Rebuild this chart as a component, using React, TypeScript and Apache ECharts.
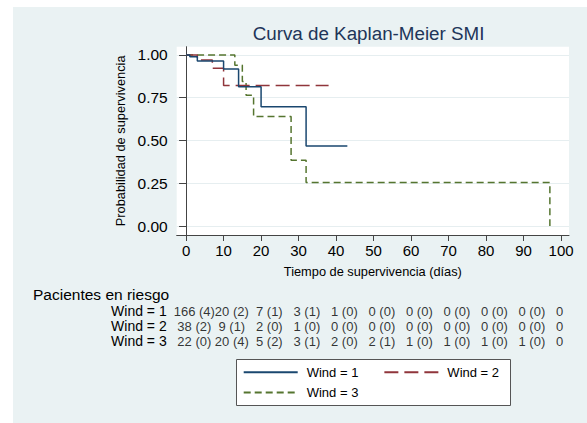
import React, { useEffect, useRef } from 'react';
import * as echarts from 'echarts';

// ---- data ----
const groups = ['Wind = 1', 'Wind = 2', 'Wind = 3'];
const wind1Curve = [[0, 1], [1, 0.99], [3, 0.965], [10, 0.918], [14, 0.815], [20, 0.698], [32, 0.468], [43, 0.468]];
const wind2Curve = [[0, 1], [3, 0.97], [7, 0.922], [10, 0.822], [38, 0.822]];
const wind3Curve = [[0, 1], [13, 0.94], [15, 0.845], [16, 0.765], [18, 0.64], [28, 0.385], [32, 0.255], [97, 0]];

const riskTimes = [0, 10, 20, 30, 40, 50, 60, 70, 80, 90, 100];
const wind1AtRisk = [166, 20, 7, 3, 1, 0, 0, 0, 0, 0, 0];
const wind1Events = [4, 2, 1, 1, 0, 0, 0, 0, 0, 0];
const wind2AtRisk = [38, 9, 2, 1, 0, 0, 0, 0, 0, 0, 0];
const wind2Events = [2, 1, 0, 0, 0, 0, 0, 0, 0, 0];
const wind3AtRisk = [22, 20, 5, 3, 2, 2, 1, 1, 1, 1, 0];
const wind3Events = [0, 4, 2, 1, 0, 1, 0, 0, 0, 0];

const xTicks = [0, 10, 20, 30, 40, 50, 60, 70, 80, 90, 100];
const yTicks = [0, 0.25, 0.5, 0.75, 1];

const titleText = 'Curva de Kaplan-Meier SMI';
const xName = 'Tiempo de supervivencia (días)';
const yName = 'Probabilidad de supervivencia';
const riskTitle = 'Pacientes en riesgo';

// ---- style ----
const FONT = '"Liberation Sans", Arial, Helvetica, sans-serif';
const colors = ['#1a476f', '#90353b', '#55752f'];
const dashes: any[] = ['solid', [14, 6], [7, 4]];
const RISK_FS = 13;

const curves = [wind1Curve, wind2Curve, wind3Curve];
const atRisk = [wind1AtRisk, wind2AtRisk, wind3AtRisk];
const events = [wind1Events, wind2Events, wind3Events];

function buildOption() {
  const kmSeries = groups.map((g, i) => ({
    name: g,
    type: 'line',
    xAxisIndex: 0,
    yAxisIndex: 0,
    step: 'end',
    symbol: 'none',
    data: curves[i],
    itemStyle: { color: colors[i] },
    lineStyle: { color: colors[i], width: 1.5, type: dashes[i] },
    z: 3 - i + 2,
  }));

  const riskSeries = groups.map((g, i) => ({
    name: 'risk-' + g,
    type: 'scatter',
    xAxisIndex: 1,
    yAxisIndex: 1,
    symbolSize: 0,
    silent: true,
    data: riskTimes.map((t, k) => {
      const cnt = String(atRisk[i][k]);
      const txt = k < events[i].length ? `${cnt} (${events[i][k]})` : cnt;
      return {
        value: [t, g],
        txt,
        label: { offset: [-(cnt.length * 0.556 * RISK_FS) / 2 - 1.5, 0] },
      };
    }),
    label: {
      show: true,
      position: 'inside',
      align: 'left',
      verticalAlign: 'middle',
      fontSize: RISK_FS,
      color: '#000',
      fontFamily: FONT,
      formatter: (p: any) => p.data.txt,
    },
  }));

  const legendCommon = {
    padding: 0,
    z: 5,
    itemWidth: 54,
    itemHeight: 14,
    itemStyle: { opacity: 0 },
    textStyle: { fontSize: 13, color: '#000', fontFamily: FONT, padding: [0, 0, 0, 4] },
  };

  return {
    animation: false,
    backgroundColor: '#eaf2f3',
    textStyle: { fontFamily: FONT },
    graphic: [
      {
        type: 'text',
        style: {
          text: titleText,
          x: 239.7,
          y: 26,
          align: 'left',
          verticalAlign: 'middle',
          fontSize: 18.8,
          fontFamily: FONT,
          fill: '#213559',
        },
      },
      {
        type: 'text',
        style: {
          text: riskTitle,
          x: 20,
          y: 287,
          align: 'left',
          verticalAlign: 'middle',
          fontSize: 15.5,
          fontFamily: FONT,
          fill: '#000',
        },
      },
      {
        type: 'rect',
        z: 1,
        shape: { x: 223.5, y: 352.5, width: 274, height: 46 },
        style: { fill: '#ffffff', stroke: '#555555', lineWidth: 1 },
      },
    ],
    grid: [
      { left: 163.7, top: 39.7, right: 18, bottom: 188, show: true, backgroundColor: '#ffffff', borderWidth: 0 },
      { left: 163.7, top: 296.5, right: 18, height: 45 },
    ],
    xAxis: [
      {
        type: 'value',
        gridIndex: 0,
        min: -2.5,
        max: 102.1,
        axisLine: { show: true, onZero: false, lineStyle: { color: '#444', width: 1 } },
        axisTick: { show: true, customValues: xTicks, length: 6, lineStyle: { color: '#444' } },
        axisLabel: { customValues: xTicks, fontSize: 15, color: '#000', margin: 8, fontFamily: FONT },
        splitLine: { show: false },
        name: xName,
        nameLocation: 'middle',
        nameGap: 30,
        nameTextStyle: { fontSize: 12.8, color: '#000', fontFamily: FONT },
      },
      {
        type: 'value',
        gridIndex: 1,
        min: -2.5,
        max: 102.1,
        show: false,
      },
    ],
    yAxis: [
      {
        type: 'value',
        gridIndex: 0,
        min: -0.0526,
        max: 1.0485,
        axisLine: { show: true, lineStyle: { color: '#444', width: 1 } },
        axisTick: { show: true, customValues: yTicks, length: 7, lineStyle: { color: '#444' } },
        axisLabel: {
          customValues: yTicks,
          fontSize: 15.5,
          color: '#000',
          margin: 9,
          fontFamily: FONT,
          formatter: (v: number) => v.toFixed(2),
        },
        splitLine: { show: true, lineStyle: { color: '#e6eef0', width: 1 } },
        name: yName,
        nameLocation: 'middle',
        nameGap: 48,
        nameTextStyle: { fontSize: 12.8, color: '#000', fontFamily: FONT },
      },
      {
        type: 'category',
        gridIndex: 1,
        inverse: true,
        data: groups,
        axisLine: { show: false },
        axisTick: { show: false },
        splitLine: { show: false },
        axisLabel: { interval: 0, fontSize: 14, color: '#000', margin: 10, fontFamily: FONT },
      },
    ],
    legend: [
      {
        ...legendCommon,
        data: [groups[0], groups[1]],
        left: 229.7,
        top: 358.7,
        itemGap: 25,
      },
      {
        ...legendCommon,
        data: [groups[2]],
        left: 229.7,
        top: 379,
      },
    ],
    series: [...kmSeries, ...riskSeries],
  };
}

export default function App() {
  const ref = useRef<HTMLDivElement>(null);
  useEffect(() => {
    if (!ref.current) return;
    const chart = echarts.init(ref.current, null, { renderer: 'svg' });
    chart.setOption(buildOption() as any);
    return () => chart.dispose();
  }, []);
  return (
    <div
      ref={ref}
      style={{ position: 'absolute', left: 13, top: 7, width: 574, height: 416 }}
    />
  );
}
